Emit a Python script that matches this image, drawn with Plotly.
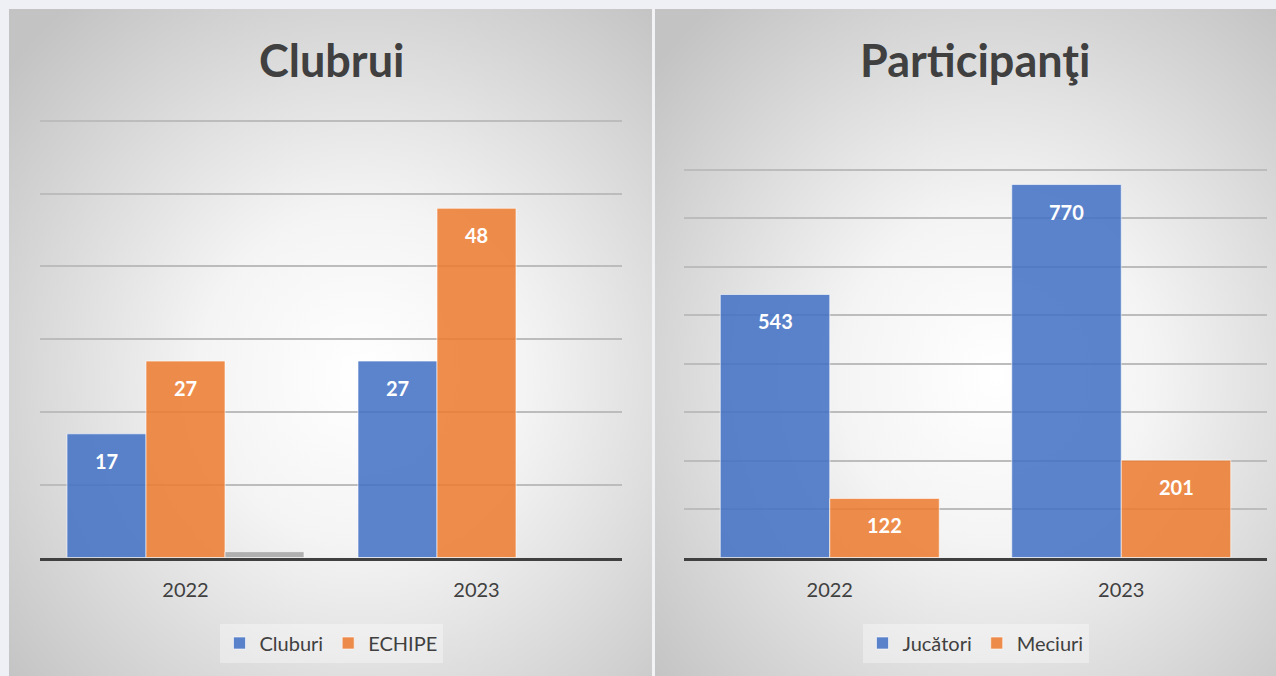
import base64
import plotly.graph_objects as go

W, H = 1276, 676

# ---- data ----
years = ["2022", "2023"]
cluburi = [17, 27]
echipe = [27, 48]
extra = [0.8, None]          # small grey unlabeled series (left chart)
jucatori = [543, 770]
meciuri = [122, 201]

title_left = "Clubrui"
title_right = "Participanţi"

BLUE = "rgba(68,114,196,0.87)"
ORANGE = "rgba(237,125,49,0.87)"
GREY = "rgba(165,165,165,0.85)"
FONT = "Lato"

def px_x(p):
    return p / W

def px_y(p):
    return 1 - p / H

def radial_svg():
    svg = ('<svg xmlns="http://www.w3.org/2000/svg" width="100" height="100" '
           'viewBox="0 0 100 100" preserveAspectRatio="none">'
           '<defs><radialGradient id="g" cx="0.55" cy="0.55" r="0.72">'
           '<stop offset="0" stop-color="#ffffff"/>'
           '<stop offset="0.35" stop-color="#f4f4f4"/>'
           '<stop offset="1" stop-color="#c3c3c3"/>'
           '</radialGradient></defs>'
           '<rect x="0" y="0" width="100" height="100" fill="url(#g)"/></svg>')
    return "data:image/svg+xml;base64," + base64.b64encode(svg.encode()).decode()

fig = go.Figure()

x_idx = list(range(len(years)))

# left chart: three bars per group
wl = 79 / 291
left_series = [("Cluburi", cluburi, BLUE, True), ("ECHIPE", echipe, ORANGE, True),
               ("", extra, GREY, False)]
annotations = []
for k, (name, vals, col, show) in enumerate(left_series):
    off = -1.5 * wl + k * wl
    fig.add_trace(go.Bar(
        x=x_idx, y=vals, name=name, width=wl, offset=off,
        marker=dict(color=col, line=dict(color="rgba(255,255,255,0.6)", width=1)),
        showlegend=show, legend="legend", xaxis="x", yaxis="y", hoverinfo="skip"))
    if show:
        for i, v in enumerate(vals):
            annotations.append(dict(
                x=i + off + wl / 2, y=v, xref="x", yref="y", text=f"<b>{v}</b>",
                showarrow=False, yshift=-27, yanchor="middle",
                font=dict(family=FONT, size=20, color="white")))

# right chart: two bars per group
wr = 109.5 / 291.5
right_series = [("Jucători", jucatori, BLUE), ("Meciuri", meciuri, ORANGE)]
for k, (name, vals, col) in enumerate(right_series):
    off = -wr + k * wr
    fig.add_trace(go.Bar(
        x=x_idx, y=vals, name=name, width=wr, offset=off,
        marker=dict(color=col, line=dict(color="rgba(255,255,255,0.6)", width=1)),
        legend="legend2", xaxis="x2", yaxis="y2", hoverinfo="skip"))
    for i, v in enumerate(vals):
        annotations.append(dict(
            x=i + off + wr / 2, y=v, xref="x2", yref="y2", text=f"<b>{v}</b>",
            showarrow=False, yshift=-27, yanchor="middle",
            font=dict(family=FONT, size=20, color="white")))

# titles
annotations.append(dict(x=px_x(331), y=px_y(60), xref="paper", yref="paper",
                        text=f"<b>{title_left}</b>", showarrow=False,
                        xanchor="center", yanchor="middle",
                        font=dict(family=FONT, size=45, color="#404040")))
annotations.append(dict(x=px_x(975.5), y=px_y(60), xref="paper", yref="paper",
                        text=f"<b>{title_right}</b>", showarrow=False,
                        xanchor="center", yanchor="middle",
                        font=dict(family=FONT, size=45, color="#404040")))

base_y = 557.5
# left: 60 units span 557.5 -> 121 px ; extend range a little so the top grid line draws
l_unit = (base_y - 121) / 60
r_unit = (base_y - 170) / 800
xcommon = dict(range=[-0.5, 1.5], tickvals=x_idx, ticktext=years, showline=True,
               linecolor="#404040", linewidth=3, ticks="", showgrid=False,
               zeroline=False, tickfont=dict(family=FONT, size=20, color="#404040"),
               ticklabelstandoff=12, fixedrange=True)
ycommon = dict(showgrid=True, gridcolor="#bcbcbc", gridwidth=1.5,
               showticklabels=False, zeroline=False, showline=False, ticks="",
               fixedrange=True)

fig.update_layout(
    width=W, height=H,
    margin=dict(l=0, r=0, t=0, b=0),
    paper_bgcolor="#eef0f6",
    plot_bgcolor="rgba(0,0,0,0)",
    barmode="overlay",
    font=dict(family=FONT, color="#404040"),
    xaxis=dict(domain=[px_x(40), px_x(622)], anchor="y", **xcommon),
    yaxis=dict(domain=[px_y(base_y), px_y(121 - 1 * l_unit)], range=[0, 61], dtick=10,
               anchor="x", **ycommon),
    xaxis2=dict(domain=[px_x(684), px_x(1267)], anchor="y2", **xcommon),
    yaxis2=dict(domain=[px_y(base_y), px_y(170 - 10 * r_unit)], range=[0, 810], dtick=100,
                anchor="x2", **ycommon),
    legend=dict(orientation="h", x=px_x(331), y=px_y(643), xanchor="center",
                yanchor="middle", bgcolor="rgba(255,255,255,0.35)",
                font=dict(family=FONT, size=20, color="#404040"),
                itemwidth=30, tracegroupgap=0),
    legend2=dict(orientation="h", x=px_x(975.5), y=px_y(643), xanchor="center",
                 yanchor="middle", bgcolor="rgba(255,255,255,0.35)",
                 font=dict(family=FONT, size=20, color="#404040"),
                 itemwidth=30, tracegroupgap=0),
    annotations=annotations,
    images=[
        dict(source=radial_svg(), xref="paper", yref="paper",
             x=px_x(9), y=px_y(9), sizex=px_x(652) - px_x(9),
             sizey=(676 - 9) / H, xanchor="left", yanchor="top",
             sizing="stretch", layer="below"),
        dict(source=radial_svg(), xref="paper", yref="paper",
             x=px_x(655), y=px_y(9), sizex=px_x(1276) - px_x(655),
             sizey=(676 - 9) / H, xanchor="left", yanchor="top",
             sizing="stretch", layer="below"),
    ],
    shapes=[dict(type="line", xref="paper", yref="paper", x0=px_x(653.5),
                 x1=px_x(653.5), y0=0, y1=px_y(9),
                 line=dict(color="#f4f4f4", width=2))],
    showlegend=True,
)

fig.write_html(
    "out.html",
    config={"displayModeBar": False, "staticPlot": False},
    post_script="document.body.style.margin='0';document.body.style.padding='0';"
                "document.body.style.overflow='hidden';",
)
